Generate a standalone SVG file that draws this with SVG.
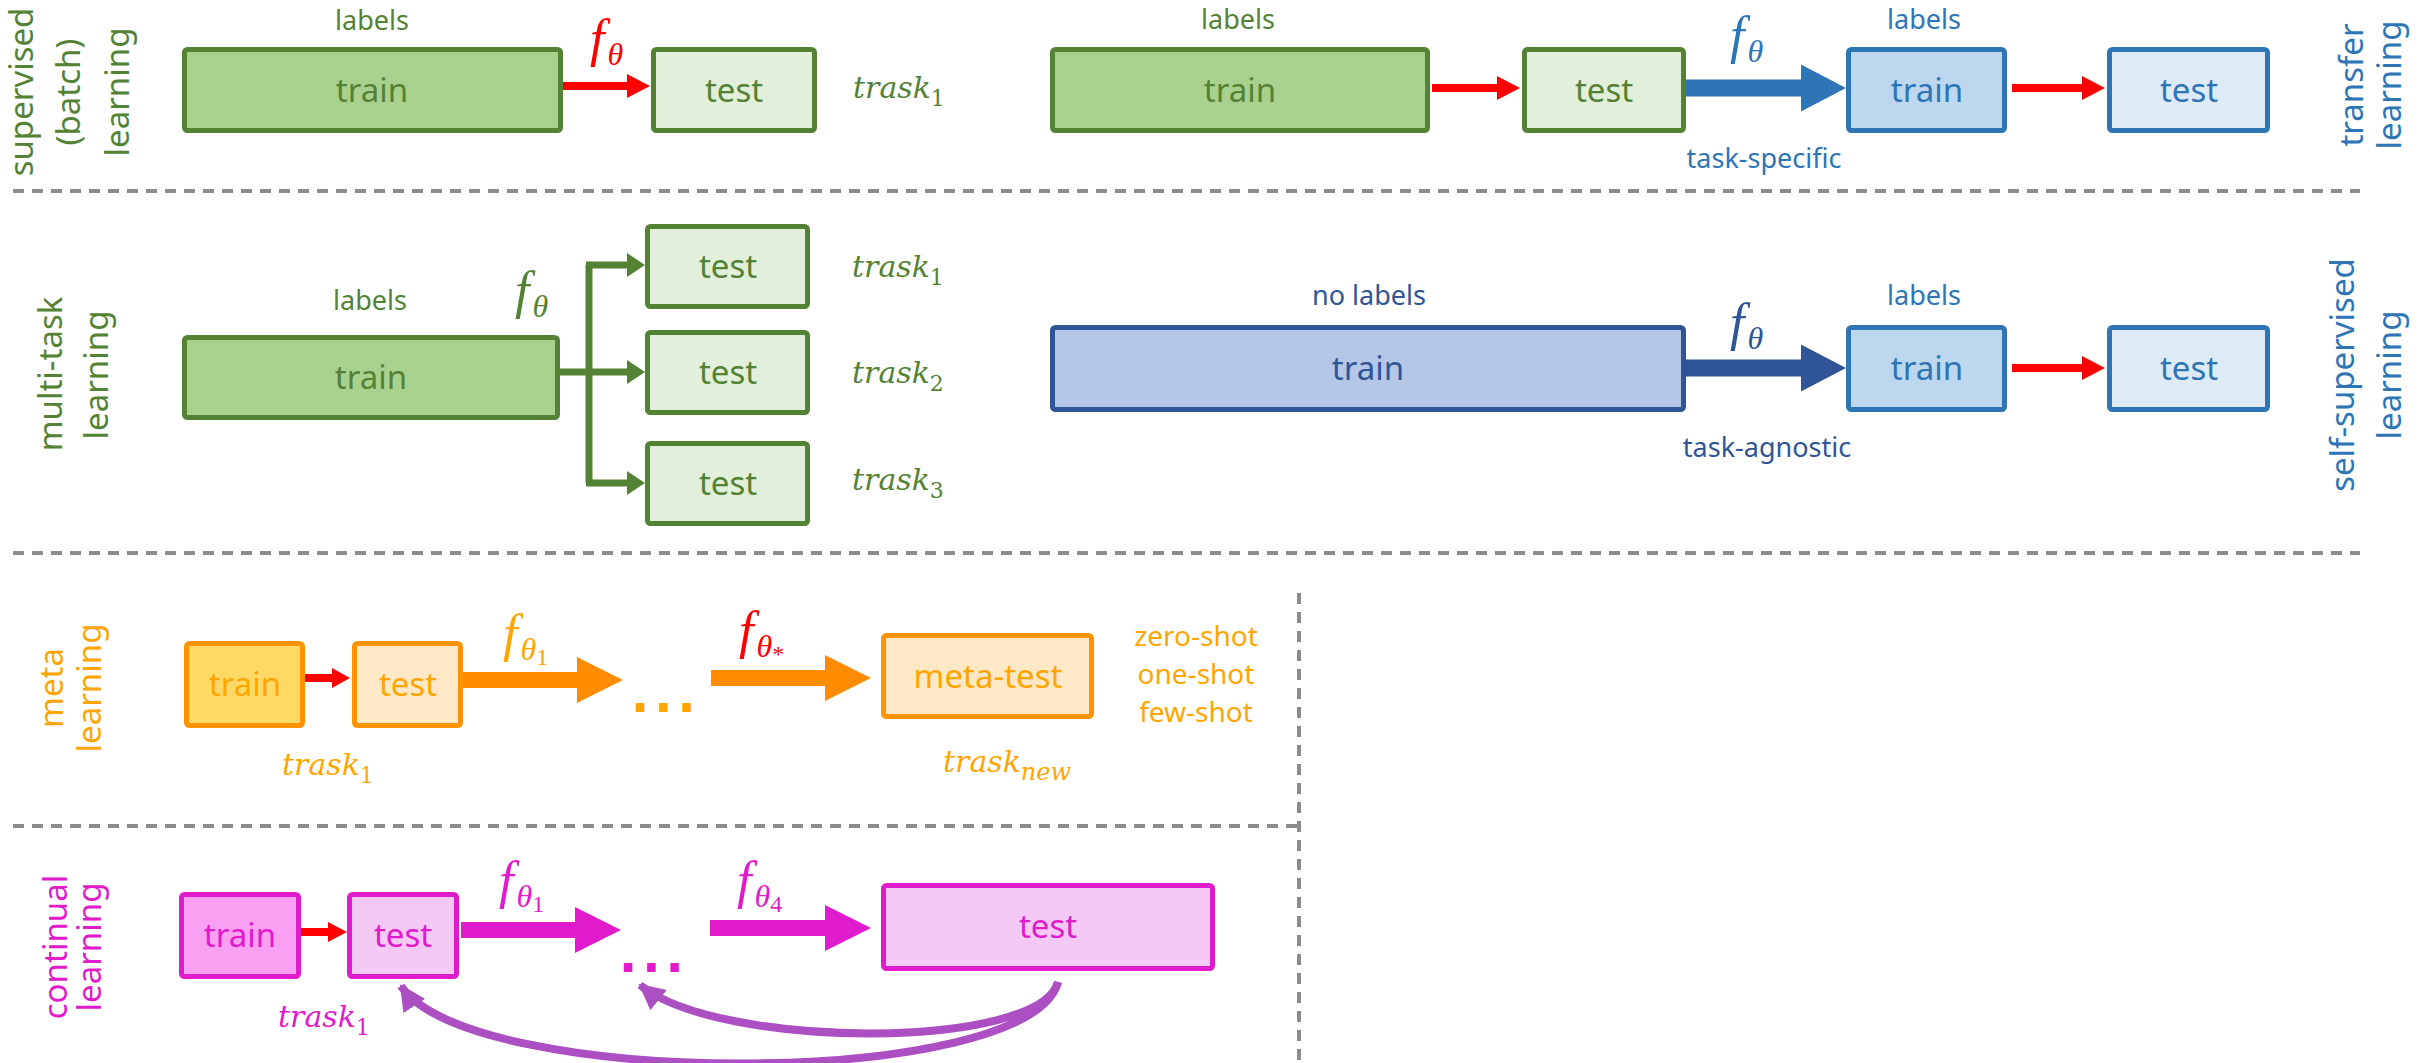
<svg xmlns="http://www.w3.org/2000/svg" width="2435" height="1063" viewBox="0 0 2435 1063">
<style>
.box{stroke-width:5}
.g{fill:#A9D18E;stroke:#548235}
.gl{fill:#E2EFDA;stroke:#548235}
.b{fill:#BDD7EE;stroke:#2E75B6}
.bl{fill:#DEEBF7;stroke:#2E75B6}
.db{fill:#B4C7E7;stroke:#2F5597}
.o{fill:#FFD966;stroke:#FF9200}
.ol{fill:#FFE8C6;stroke:#FF9200}
.p{fill:#F9A0F2;stroke:#E01BCB}
.pl{fill:#F5C9F6;stroke:#E01BCB}
text{font-family:"Noto Sans","Open Sans","DejaVu Sans",sans-serif}
.bt{font-size:33px;text-anchor:middle}
.sm{font-size:27px;text-anchor:middle}
.shot{font-size:28px;text-anchor:middle}
.rot{font-family:"Noto Sans","Open Sans",sans-serif;font-size:33px;text-anchor:middle}
.tk{font-family:"DejaVu Serif",serif;font-style:italic;font-size:30px}
.sub{font-style:normal;font-size:22px}
.m{font-family:"Liberation Serif","Times New Roman",serif;font-style:italic;font-size:52px}
.th{font-size:32px}
.s2{font-style:normal;font-size:24px}
.cg{fill:#548235}.cb{fill:#2E75B6}.cdb{fill:#2F5597}.co{fill:#FFA500}.cp{fill:#E01BCB}.cr{fill:#FF0000}
.dash{stroke:#8C8C8C;stroke-width:4;stroke-dasharray:11 8;fill:none}
.dots{font-family:"DejaVu Sans",sans-serif;font-weight:bold;font-size:48px;letter-spacing:5px}
</style>
<defs>
<marker id="pa" markerWidth="30" markerHeight="30" refX="24" refY="13" orient="auto" markerUnits="userSpaceOnUse"><path d="M0,0 L26,13 L0,26 z" fill="#AB4FC3"/></marker>
</defs>

<g id="separators">
<line class="dash" x1="13" y1="191" x2="2360" y2="191"/>
<line class="dash" x1="13" y1="553" x2="2360" y2="553"/>
<line class="dash" x1="13" y1="826" x2="1299" y2="826"/>
<line class="dash" x1="1299" y1="593" x2="1299" y2="1063"/>
</g>

<g id="label-supervised" class="cg">
<text class="rot" transform="translate(33,92) rotate(-90)">supervised</text>
<text class="rot" transform="translate(80,92) rotate(-90)">(batch)</text>
<text class="rot" transform="translate(129,92) rotate(-90)">learning</text>
</g>
<g id="label-multitask" class="cg">
<text class="rot" transform="translate(62,374) rotate(-90)">multi-task</text>
<text class="rot" transform="translate(108,375) rotate(-90)">learning</text>
</g>
<g id="label-meta" class="co">
<text class="rot" transform="translate(63,688) rotate(-90)">meta</text>
<text class="rot" transform="translate(101,688) rotate(-90)">learning</text>
</g>
<g id="label-continual" class="cp">
<text class="rot" transform="translate(67,947) rotate(-90)">continual</text>
<text class="rot" transform="translate(101,947) rotate(-90)">learning</text>
</g>
<g id="label-transfer" class="cb">
<text class="rot" transform="translate(2363,85) rotate(-90)">transfer</text>
<text class="rot" transform="translate(2401,85) rotate(-90)">learning</text>
</g>
<g id="label-selfsup" class="cb">
<text class="rot" transform="translate(2354,375) rotate(-90)">self-supervised</text>
<text class="rot" transform="translate(2401,375) rotate(-90)">learning</text>
</g>

<g id="connectors">
<polygon fill="#FF0000" points="563,82 627,82 627,74 650,86 627,98 627,90 563,90"/>
<polygon fill="#FF0000" points="1432,84 1497,84 1497,76 1520,88 1497,100 1497,92 1432,92"/>
<polygon fill="#2E75B6" points="1686,79.5 1801,79.5 1801,64.5 1846,88 1801,111.5 1801,96.5 1686,96.5"/>
<polygon fill="#FF0000" points="2012,84 2082,84 2082,76 2105,88 2082,100 2082,92 2012,92"/>
<path d="M560,372 H628 M589,265 V483 M586,265 H628 M586,483 H628" stroke="#548235" stroke-width="7" fill="none"/>
<polygon fill="#548235" points="627,253 645,265 627,277"/>
<polygon fill="#548235" points="627,360 645,372 627,384"/>
<polygon fill="#548235" points="627,471 645,483 627,495"/>
<polygon fill="#2F5597" points="1686,359.5 1801,359.5 1801,344.5 1846,368 1801,391.5 1801,376.5 1686,376.5"/>
<polygon fill="#FF0000" points="2012,364 2082,364 2082,356 2105,368 2082,380 2082,372 2012,372"/>
<polygon fill="#FF0000" points="305,674 332,674 332,668 350,678 332,688 332,682 305,682"/>
<polygon fill="#FF8C00" points="463,672 577,672 577,657 623,680 577,703 577,688 463,688"/>
<polygon fill="#FF8C00" points="711,670 825,670 825,655 871,678 825,701 825,686 711,686"/>
<polygon fill="#FF0000" points="301,928 328,928 328,922 347,932 328,942 328,936 301,936"/>
<polygon fill="#E01BCB" points="461,922 575,922 575,907 621,930 575,953 575,938 461,938"/>
<polygon fill="#E01BCB" points="710,920 825,920 825,905 871,928 825,951 825,936 710,936"/>
<path d="M1058,982 C1040,1050 720,1050 640,985" stroke="#AB4FC3" stroke-width="8" fill="none" marker-end="url(#pa)"/>
<path d="M1058,982 C1030,1090 470,1090 401,986" stroke="#AB4FC3" stroke-width="8" fill="none" marker-end="url(#pa)"/>
</g>

<g id="sup-train"><rect class="box g" x="184.5" y="49.5" width="376" height="81" rx="3"/><text class="bt cg" x="372" y="102">train</text></g>
<text class="sm cg" x="372" y="30">labels</text>
<text class="m cr" x="590" y="56">f<tspan class="th" dx="3" dy="9">θ</tspan></text>
<g id="sup-test"><rect class="box gl" x="653.5" y="49.5" width="161" height="81" rx="3"/><text class="bt cg" x="734" y="102">test</text></g>
<text class="tk cg" x="853" y="98">trask<tspan class="sub" dy="8">1</tspan></text>

<text class="sm cg" x="1238" y="29">labels</text>
<g id="tr-train1"><rect class="box g" x="1052.5" y="49.5" width="375" height="81" rx="3"/><text class="bt cg" x="1240" y="102">train</text></g>
<g id="tr-test1"><rect class="box gl" x="1524.5" y="49.5" width="159" height="81" rx="3"/><text class="bt cg" x="1604" y="102">test</text></g>
<text class="m cb" x="1730" y="53">f<tspan class="th" dx="3" dy="9">θ</tspan></text>
<text class="sm cb" x="1924" y="29">labels</text>
<g id="tr-train2"><rect class="box b" x="1848.5" y="49.5" width="156" height="81" rx="3"/><text class="bt cb" x="1927" y="102">train</text></g>
<g id="tr-test2"><rect class="box bl" x="2109.5" y="49.5" width="158" height="81" rx="3"/><text class="bt cb" x="2189" y="102">test</text></g>
<text class="sm cb" x="1764" y="168">task-specific</text>

<text class="sm cg" x="370" y="310">labels</text>
<g id="mt-train"><rect class="box g" x="184.5" y="337.5" width="373" height="80" rx="3"/><text class="bt cg" x="371" y="389">train</text></g>
<text class="m cg" x="515" y="308">f<tspan class="th" dx="3" dy="9">θ</tspan></text>
<g id="mt-test1"><rect class="box gl" x="647.5" y="226.5" width="160" height="80" rx="3"/><text class="bt cg" x="728" y="278">test</text></g>
<g id="mt-test2"><rect class="box gl" x="647.5" y="332.5" width="160" height="80" rx="3"/><text class="bt cg" x="728" y="384">test</text></g>
<g id="mt-test3"><rect class="box gl" x="647.5" y="443.5" width="160" height="80" rx="3"/><text class="bt cg" x="728" y="495">test</text></g>
<text class="tk cg" x="852" y="277">trask<tspan class="sub" dy="8">1</tspan></text>
<text class="tk cg" x="852" y="383">trask<tspan class="sub" dy="8">2</tspan></text>
<text class="tk cg" x="852" y="490">trask<tspan class="sub" dy="8">3</tspan></text>

<text class="sm cdb" x="1369" y="305">no labels</text>
<g id="ss-train1"><rect class="box db" x="1052.5" y="327.5" width="631" height="82" rx="3"/><text class="bt cdb" x="1368" y="380">train</text></g>
<text class="m cdb" x="1730" y="340">f<tspan class="th" dx="3" dy="9">θ</tspan></text>
<text class="sm cb" x="1924" y="305">labels</text>
<g id="ss-train2"><rect class="box b" x="1848.5" y="327.5" width="156" height="82" rx="3"/><text class="bt cb" x="1927" y="380">train</text></g>
<g id="ss-test"><rect class="box bl" x="2109.5" y="327.5" width="158" height="82" rx="3"/><text class="bt cb" x="2189" y="380">test</text></g>
<text class="sm cdb" x="1767" y="457">task-agnostic</text>

<g id="ml-train"><rect class="box o" x="186.5" y="643.5" width="116" height="82" rx="3"/><text class="bt co" x="245" y="696">train</text></g>
<g id="ml-test"><rect class="box ol" x="354.5" y="643.5" width="106" height="82" rx="3"/><text class="bt co" x="408" y="696">test</text></g>
<text class="m co" x="503" y="651">f<tspan class="th" dx="3" dy="9">θ</tspan><tspan class="s2" dy="5">1</tspan></text>
<text class="dots co" x="631" y="712">...</text>
<text class="m cr" x="739" y="648">f<tspan class="th" dx="3" dy="9">θ</tspan><tspan class="s2" dy="5">*</tspan></text>
<g id="ml-metatest"><rect class="box ol" x="883.5" y="635.5" width="208" height="81" rx="3"/><text class="bt co" x="988" y="688">meta-test</text></g>
<text class="shot co" x="1196" y="646">zero-shot</text>
<text class="shot co" x="1196" y="684">one-shot</text>
<text class="shot co" x="1196" y="722">few-shot</text>
<text class="tk co" x="282" y="775">trask<tspan class="sub" dy="8">1</tspan></text>
<text class="tk co" x="943" y="772">trask<tspan dy="8" style="font-style:italic;font-size:24px">new</tspan></text>

<g id="cl-train"><rect class="box p" x="181.5" y="894.5" width="117" height="82" rx="3"/><text class="bt cp" x="240" y="947">train</text></g>
<g id="cl-test"><rect class="box pl" x="349.5" y="894.5" width="107" height="82" rx="3"/><text class="bt cp" x="403" y="947">test</text></g>
<text class="m cp" x="499" y="898">f<tspan class="th" dx="3" dy="9">θ</tspan><tspan class="s2" dy="5">1</tspan></text>
<text class="dots cp" x="619" y="972">...</text>
<text class="m cp" x="737" y="898">f<tspan class="th" dx="3" dy="9">θ</tspan><tspan class="s2" dy="5">4</tspan></text>
<g id="cl-test2"><rect class="box pl" x="883.5" y="885.5" width="329" height="83" rx="3"/><text class="bt cp" x="1048" y="938">test</text></g>
<text class="tk cp" x="278" y="1027">trask<tspan class="sub" dy="8">1</tspan></text>
</svg>
